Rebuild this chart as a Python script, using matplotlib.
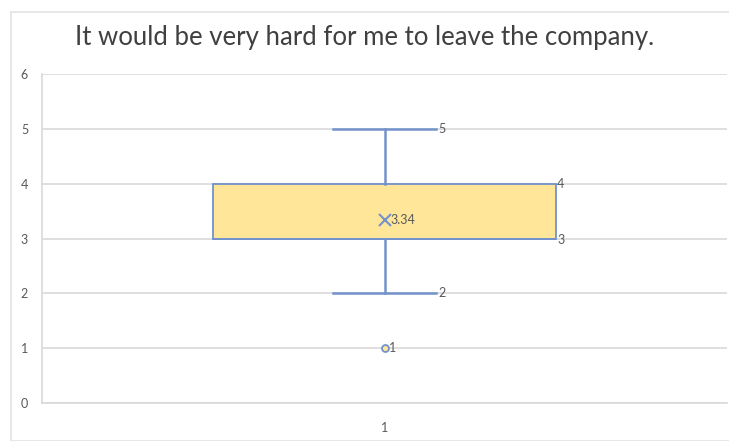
import matplotlib.pyplot as plt
from matplotlib.patches import Rectangle

# box plot summary
title = "It would be very hard for me to leave the company."
category = "1"
q1, median, q3 = 3, 3, 4
whisker_low, whisker_high = 2, 5
mean = 3.34
outliers = [1]
y_ticks = [0, 1, 2, 3, 4, 5, 6]

blue = "#7392CB"
gold = "#FFE699"
grey_txt = "#595959"
grid = "#D9D9D9"

plt.rcParams["font.family"] = ["Lato", "DejaVu Sans"]

fig = plt.figure(figsize=(7.29, 4.41), dpi=100)
ax = fig.add_axes([42 / 729, 1 - 403 / 441, 685 / 729, 329 / 441])

# chart area border
fig.patches.append(Rectangle((11 / 729, 0.0), 1.0, 1 - 12 / 441, transform=fig.transFigure,
                             fill=False, edgecolor="#E3E3E3", linewidth=1.2))

stats = [dict(med=median, q1=q1, q3=q3, whislo=whisker_low, whishi=whisker_high,
              mean=mean, fliers=outliers, label=category)]
ax.bxp(stats, positions=[1], widths=0.5, patch_artist=True, showmeans=True,
       boxprops=dict(facecolor=gold, edgecolor=blue, linewidth=1.3),
       whiskerprops=dict(color=blue, linewidth=1.8),
       capprops=dict(color=blue, linewidth=1.8),
       medianprops=dict(color=blue, linewidth=1.3),
       meanprops=dict(marker="x", markeredgecolor=blue, markersize=8, markeredgewidth=1.5),
       flierprops=dict(marker="o", markerfacecolor=gold, markeredgecolor=blue,
                       markersize=5, markeredgewidth=1.3),
       capwidths=0.15, zorder=3)

ax.set_xlim(0.5, 1.5)
ax.set_ylim(0, 6)
ax.set_yticks(y_ticks)
ax.yaxis.grid(True, color=grid, linewidth=1.2)
ax.set_axisbelow(True)
ax.tick_params(length=0, labelsize=9, labelcolor=grey_txt)
ax.tick_params(axis="y", pad=10)
ax.tick_params(axis="x", pad=14)
for s in ["top", "right"]:
    ax.spines[s].set_visible(False)
for s in ["left", "bottom"]:
    ax.spines[s].set_color(grid)
    ax.spines[s].set_linewidth(1.2)

lbl = dict(fontsize=9, color=grey_txt, va="center", ha="left")
ax.text(1 + 0.075 + 0.003, whisker_high, str(whisker_high), **lbl)
ax.text(1 + 0.075 + 0.003, whisker_low, str(whisker_low), **lbl)
ax.text(1.25 + 0.002, q3, str(q3), **lbl)
ax.text(1.25 + 0.002, q1 - 0.03, str(q1), **lbl)
ax.text(1.008, mean, f"{mean:.2f}", **lbl)
for v in outliers:
    ax.text(1.006, v, str(v), **lbl)

fig.text(0.5, 1 - 37 / 441, title, ha="center", va="center", fontsize=18.5,
         color="#404040")

fig.savefig("out.png")
